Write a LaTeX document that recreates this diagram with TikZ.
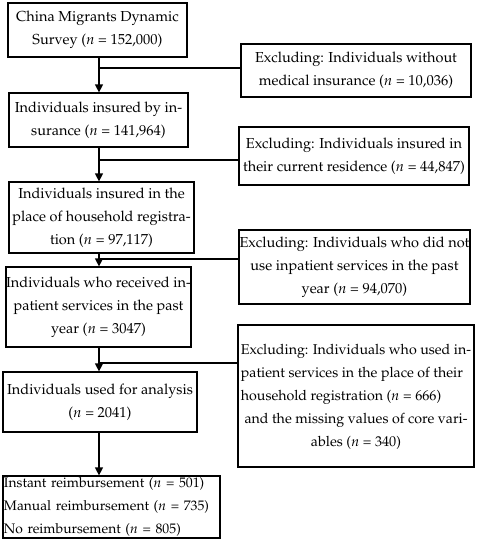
\documentclass[tikz,border=0pt]{standalone}
\usepackage[T1]{fontenc}
\usepackage{mathpazo}
\usetikzlibrary{arrows.meta}
\begin{document}
\begin{tikzpicture}[x=1pt,y=-1pt,
  box/.style={draw, line width=1.2pt, inner sep=0pt, align=center,
    font=\fontsize{14.5}{22.8}\selectfont},
  link/.style={line width=1.2pt},
  arr/.style={line width=1.2pt, -{Triangle[length=8pt,width=8pt]}}]
\useasboundingbox (0,0) rectangle (479,550);
\node[box, minimum width=179pt, minimum height=54pt] (b1) at (97.5,30) {China Migrants Dynamic\\Survey ($n$ = 152,000)};
\node[box, minimum width=179pt, minimum height=54pt] (b2) at (98.5,120) {Individuals insured by in-\\surance ($n$ = 141,964)};
\node[box, minimum width=185pt, minimum height=71pt] (b3) at (101.5,217.5) {Individuals insured in the\\place of household registra-\\tion ($n$ = 97,117)};
\node[box, minimum width=183pt, minimum height=80pt] (b4) at (98.5,307) {Individuals who received in-\\patient services in the past\\year ($n$ = 3047)};
\node[box, minimum width=194pt, minimum height=60pt] (b5) at (100,402) {Individuals used for analysis\\($n$ = 2041)};
\node[box, minimum width=217pt, minimum height=62pt, align=left, text width=215pt,
  font=\fontsize{13.8}{22.8}\selectfont] (b6) at (111.5,507) {Instant reimbursement ($n$ = 501)\\Manual reimbursement ($n$ = 735)\\No reimbursement ($n$ = 805)};
\node[box, minimum width=230pt, minimum height=53pt] (e1) at (356,70.5) {Excluding: Individuals without\\medical insurance ($n$ = 10,036)};
\node[box, minimum width=230pt, minimum height=58pt] (e2) at (354,156) {Excluding: Individuals insured in\\their current residence ($n$ = 44,847)};
\node[box, minimum width=231pt, minimum height=74pt] (e3) at (354.5,267) {Excluding: Individuals who did not\\use inpatient services in the past\\year ($n$ = 94,070)};
\node[box, minimum width=236pt, minimum height=142pt, font=\fontsize{14.2}{22.8}\selectfont] (e4) at (356,396) {\begin{tabular}{@{}l@{}}Excluding: Individuals who used in-\\patient services in the place of their\\household registration ($n$ = 666)\\\multicolumn{1}{@{}c@{}}{and the missing values of core vari-}\\\multicolumn{1}{@{}c@{}}{ables ($n$ = 340)}\end{tabular}};
\coordinate (t1) at (99,68);
\coordinate (t2) at (99,160);
\coordinate (t3) at (99,259);
\coordinate (t4) at (99,363);
\draw[arr] (b1.south -| t1) -- (b2.north -| t1);
\draw[arr] (b2.south -| t1) -- (b3.north -| t1);
\draw[arr] (b3.south -| t1) -- (b4.north -| t1);
\draw[arr] (b4.south -| t1) -- (b5.north -| t1);
\draw[arr] (b5.south -| t1) -- (b6.north -| t1);
\draw[link] (t1) -- (e1.west |- t1);
\draw[link] (t2) -- (e2.west |- t2);
\draw[link] (t3) -- (e3.west |- t3);
\draw[link] (t4) -- (e4.west |- t4);
\end{tikzpicture}
\end{document}
